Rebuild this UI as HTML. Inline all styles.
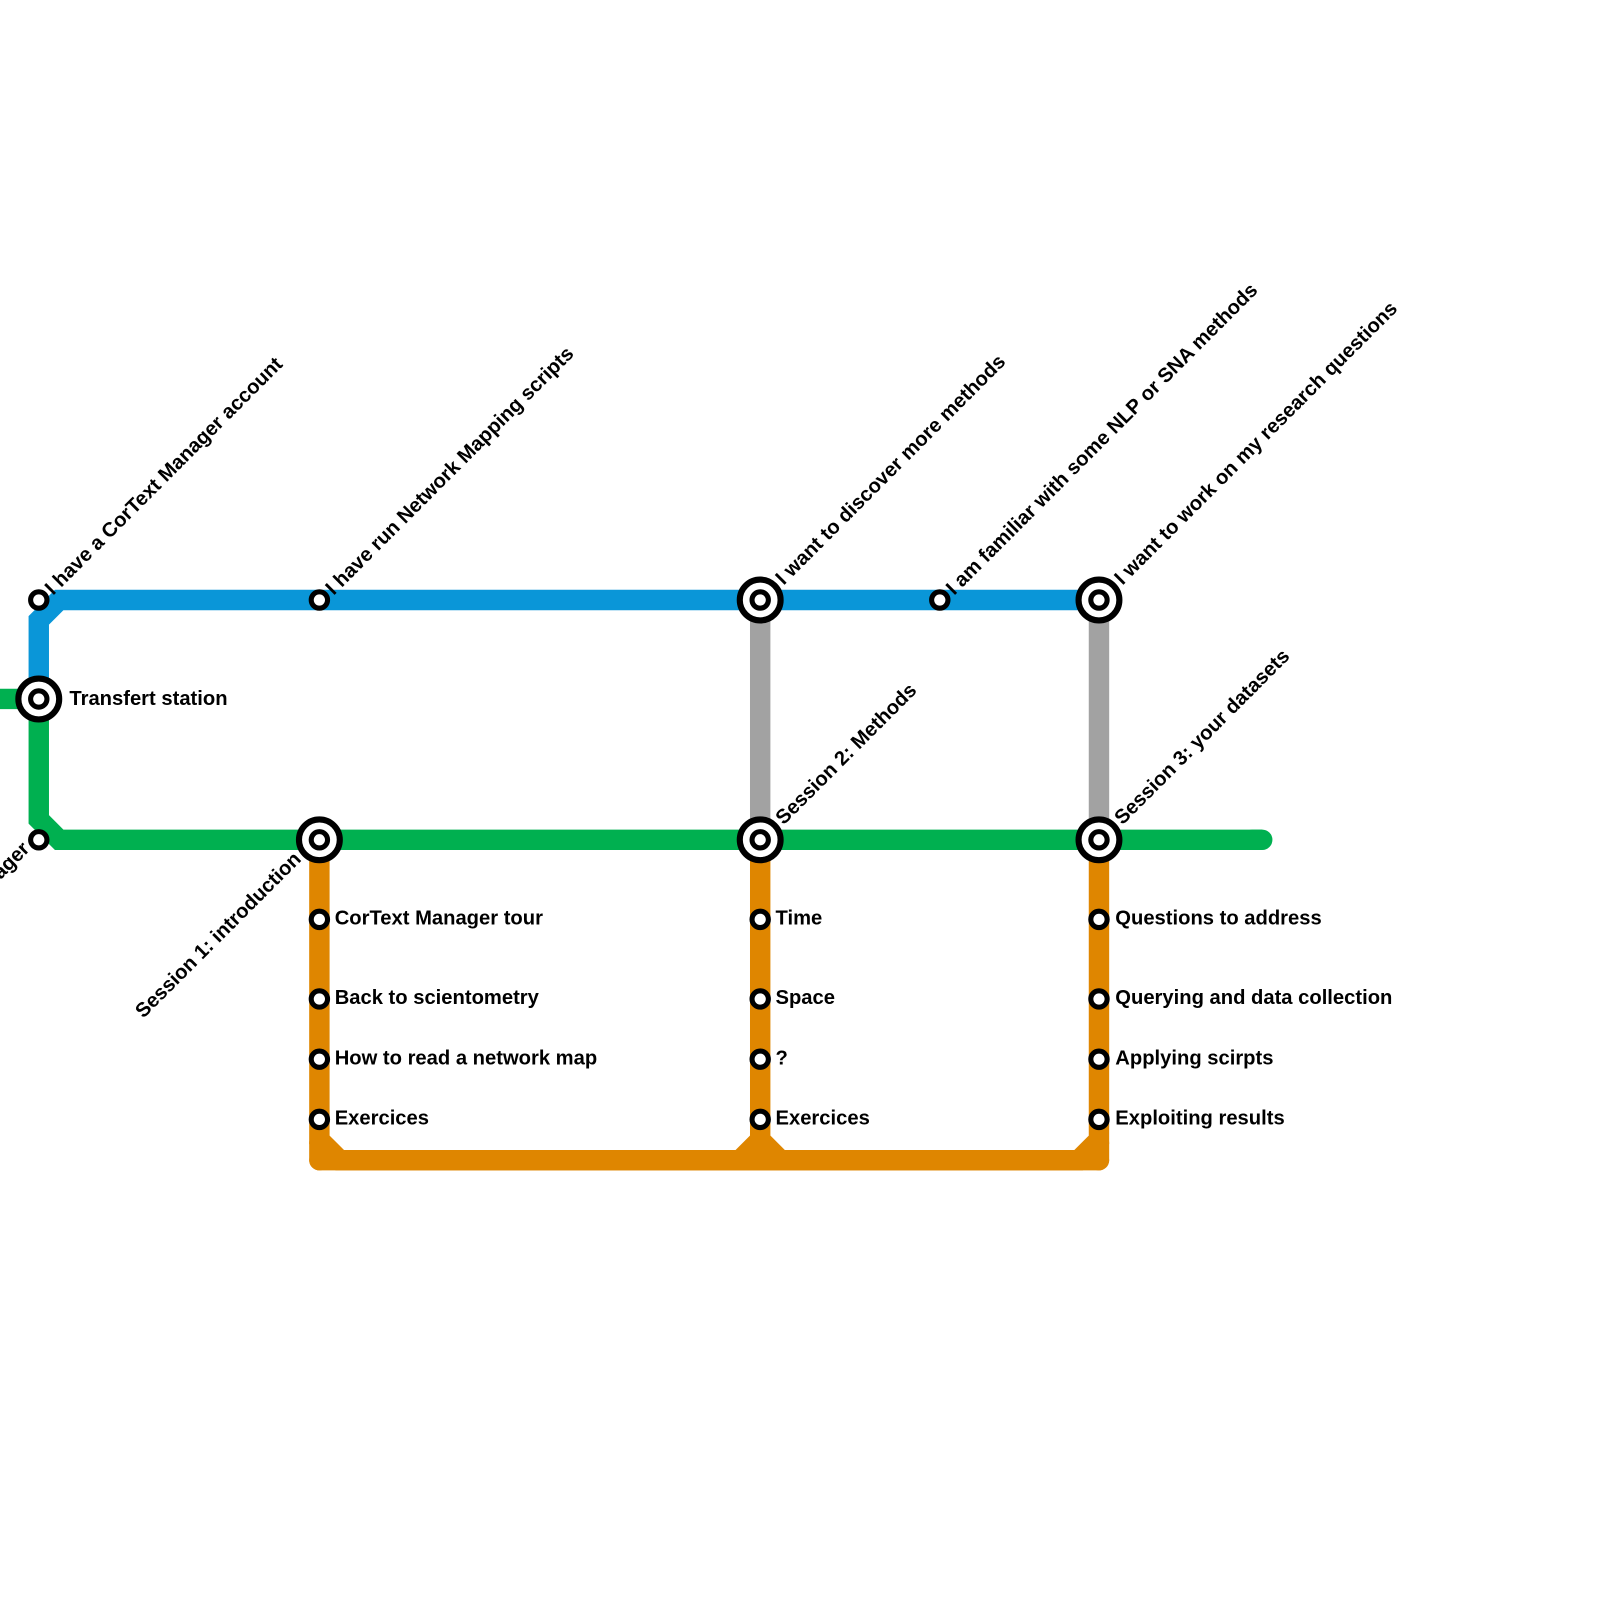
<!DOCTYPE html>
<html><head><meta charset="utf-8"><style>html,body{margin:0;padding:0;background:#fff}svg{display:block}</style></head>
<body>
<svg width="1600" height="1600" viewBox="0 0 1600 1600" xmlns="http://www.w3.org/2000/svg" font-family="Liberation Sans, sans-serif" font-weight="bold" font-size="19.8">
<g transform="scale(1.0204)">
<g fill="none" stroke-width="20">
<path d="M745 588 V823 M1077 588 V823" stroke="#a2a2a2"/>
<path d="M1077 588 H58 L38 608 V685" stroke="#0a96d8"/>
<path d="M0 685 H38 V803 L58 823 H1237" stroke="#00b050" stroke-linejoin="miter"/>
<path d="M1227 823 H1237" stroke="#00b050" stroke-linecap="round"/>
<path d="M313 823 V1117 L333 1137 H1057 L1077 1117 V823 M745 823 V1117 M725 1137 L745 1117 L765 1137" stroke="#df8600" stroke-linejoin="miter"/>
<path d="M313 1137 H1077" stroke="#df8600" stroke-linecap="round"/>
<path d="M313 1137 V1120 M1077 1137 V1120" stroke="#df8600" stroke-linecap="round"/>
</g>
<g fill="#fff" stroke="#000" stroke-width="5">
<circle cx="38" cy="588" r="8"/><circle cx="313" cy="588" r="8"/><circle cx="921" cy="588" r="8"/>
<circle cx="38" cy="823" r="8"/>
<circle cx="313" cy="901" r="8"/><circle cx="313" cy="979" r="8"/><circle cx="313" cy="1038" r="8"/><circle cx="313" cy="1097" r="8"/>
<circle cx="745" cy="901" r="8"/><circle cx="745" cy="979" r="8"/><circle cx="745" cy="1038" r="8"/><circle cx="745" cy="1097" r="8"/>
<circle cx="1077" cy="901" r="8"/><circle cx="1077" cy="979" r="8"/><circle cx="1077" cy="1038" r="8"/><circle cx="1077" cy="1097" r="8"/>
</g>
<g fill="#fff" stroke="#000" stroke-width="6">
<circle cx="38" cy="685" r="20"/><circle cx="745" cy="588" r="20"/><circle cx="1077" cy="588" r="20"/>
<circle cx="313" cy="823" r="20"/><circle cx="745" cy="823" r="20"/><circle cx="1077" cy="823" r="20"/>
</g>
<g fill="#fff" stroke="#000" stroke-width="5">
<circle cx="38" cy="685" r="8"/><circle cx="745" cy="588" r="8"/><circle cx="1077" cy="588" r="8"/>
<circle cx="313" cy="823" r="8"/><circle cx="745" cy="823" r="8"/><circle cx="1077" cy="823" r="8"/>
</g>
<g fill="#000">
<text x="68" y="691">Transfert station</text>
<text x="328" y="906">CorText Manager tour</text>
<text x="328" y="984">Back to scientometry</text>
<text x="328" y="1043">How to read a network map</text>
<text x="328" y="1102">Exercices</text>
<text x="760" y="906">Time</text>
<text x="760" y="984">Space</text>
<text x="760" y="1043">?</text>
<text x="760" y="1102">Exercices</text>
<text x="1093" y="906">Questions to address</text>
<text x="1093" y="984">Querying and data collection</text>
<text x="1093" y="1043">Applying scirpts</text>
<text x="1093" y="1102">Exploiting results</text>
<text transform="translate(52,584) rotate(-45)">I have a CorText Manager account</text>
<text transform="translate(327,584) rotate(-45)">I have run Network Mapping scripts</text>
<text transform="translate(768,574) rotate(-45)">I want to discover more methods</text>
<text transform="translate(935,584) rotate(-45)">I am familiar with some NLP or SNA methods</text>
<text transform="translate(1100,574) rotate(-45)">I want to work on my research questions</text>
<text transform="translate(768,809) rotate(-45)">Session 2: Methods</text>
<text transform="translate(1100,809) rotate(-45)">Session 3: your datasets</text>
<text text-anchor="end" transform="translate(296,843) rotate(-45)">Session 1: introduction</text>
<text text-anchor="end" transform="translate(30,833) rotate(-45)">I don't have a CorText Manager</text>
</g>
</g>
</svg>
</body></html>
